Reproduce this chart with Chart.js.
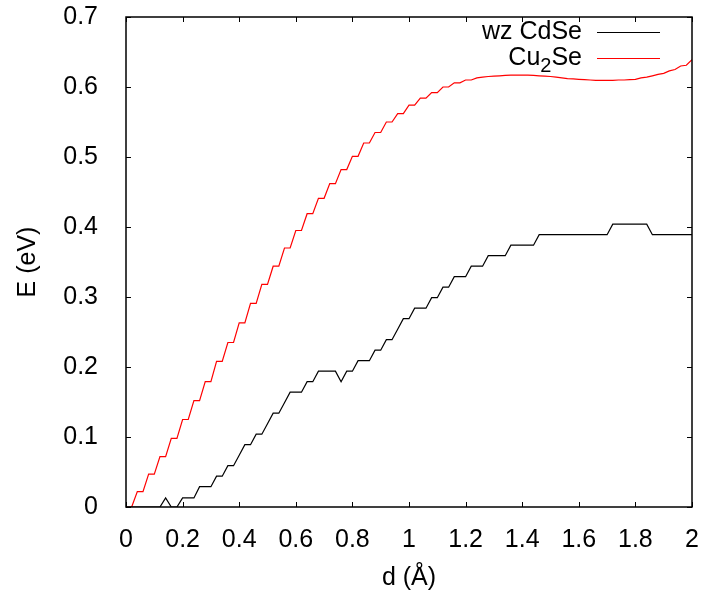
<!DOCTYPE html>
<html lang="en">
<head>
    <meta charset="UTF-8">
    <title>E vs d</title>
    <script src="https://cdn.jsdelivr.net/npm/chart.js"></script>
    <style>
        body { margin: 0; background: #fff; }
        .chart-box { width: 706px; height: 593px; }
    </style>
</head>
<body>
    <div class="chart-box">
        <canvas id="chartContainer"></canvas>
    </div>

    <script>
        // d (Å) grid
        const dValues = [
            0.00, 0.02, 0.04, 0.06, 0.08, 0.10, 0.12, 0.14, 0.16, 0.18,
            0.20, 0.22, 0.24, 0.26, 0.28, 0.30, 0.32, 0.34, 0.36, 0.38,
            0.40, 0.42, 0.44, 0.46, 0.48, 0.50, 0.52, 0.54, 0.56, 0.58,
            0.60, 0.62, 0.64, 0.66, 0.68, 0.70, 0.72, 0.74, 0.76, 0.78,
            0.80, 0.82, 0.84, 0.86, 0.88, 0.90, 0.92, 0.94, 0.96, 0.98,
            1.00, 1.02, 1.04, 1.06, 1.08, 1.10, 1.12, 1.14, 1.16, 1.18,
            1.20, 1.22, 1.24, 1.26, 1.28, 1.30, 1.32, 1.34, 1.36, 1.38,
            1.40, 1.42, 1.44, 1.46, 1.48, 1.50, 1.52, 1.54, 1.56, 1.58,
            1.60, 1.62, 1.64, 1.66, 1.68, 1.70, 1.72, 1.74, 1.76, 1.78,
            1.80, 1.82, 1.84, 1.86, 1.88, 1.90, 1.92, 1.94, 1.96, 1.98,
            2.00
        ];

        // E (eV), wz CdSe
        const cdseE = [
            0, 0, 0, 0, 0, 0, 0, 0.013, 0, 0,
            0.013, 0.013, 0.013, 0.029, 0.029, 0.029, 0.044, 0.044, 0.059, 0.059,
            0.074, 0.089, 0.089, 0.104, 0.104, 0.119, 0.134, 0.134, 0.149, 0.164,
            0.164, 0.164, 0.179, 0.179, 0.194, 0.194, 0.194, 0.194, 0.179, 0.194,
            0.194, 0.209, 0.209, 0.209, 0.224, 0.224, 0.239, 0.239, 0.254, 0.269,
            0.269, 0.284, 0.284, 0.284, 0.299, 0.299, 0.314, 0.314, 0.329, 0.329,
            0.329, 0.344, 0.344, 0.344, 0.359, 0.359, 0.359, 0.359, 0.374, 0.374,
            0.374, 0.374, 0.374, 0.389, 0.389, 0.389, 0.389, 0.389, 0.389, 0.389,
            0.389, 0.389, 0.389, 0.389, 0.389, 0.389, 0.404, 0.404, 0.404, 0.404,
            0.404, 0.404, 0.404, 0.389, 0.389, 0.389, 0.389, 0.389, 0.389, 0.389,
            0.389
        ];

        // E (eV), Cu2Se
        const cu2seE = [
            0, 0, 0.022, 0.022, 0.047, 0.047, 0.072, 0.072, 0.098, 0.098,
            0.125, 0.125, 0.152, 0.152, 0.179, 0.179, 0.208, 0.208, 0.235, 0.235,
            0.263, 0.263, 0.291, 0.291, 0.318, 0.318, 0.344, 0.344, 0.370, 0.370,
            0.395, 0.395, 0.419, 0.419, 0.441, 0.441, 0.462, 0.462, 0.482, 0.482,
            0.501, 0.501, 0.520, 0.520, 0.535, 0.535, 0.550, 0.550, 0.562, 0.562,
            0.574, 0.574, 0.584, 0.584, 0.592, 0.592, 0.600, 0.600, 0.606, 0.606,
            0.610, 0.610, 0.613, 0.614, 0.615, 0.6155, 0.616, 0.6165, 0.617, 0.617,
            0.617, 0.617, 0.6165, 0.616, 0.6155, 0.615, 0.614, 0.613, 0.612, 0.6115,
            0.611, 0.6105, 0.610, 0.6095, 0.6095, 0.6095, 0.6095, 0.610, 0.610, 0.6105,
            0.611, 0.613, 0.614, 0.616, 0.618, 0.6195, 0.623, 0.625, 0.630, 0.631,
            0.639
        ];

        const seriesLabels = ['wz CdSe', 'Cu₂Se'];
        const seriesColors = ['#000000', '#ff0000'];

        const FONT = '"Liberation Sans", Arial, sans-serif';
        const FONT_SIZE = 25;

        // split a label into normal / subscript runs (unicode subscript digits)
        function runsOf(label) {
            const runs = [];
            for (const ch of label) {
                const code = ch.charCodeAt(0);
                const sub = code >= 0x2080 && code <= 0x2089;
                const txt = sub ? String(code - 0x2080) : ch;
                const last = runs[runs.length - 1];
                if (last && last.sub === sub) last.text += txt;
                else runs.push({ text: txt, sub: sub });
            }
            return runs;
        }

        function drawRichRight(ctx, label, xRight, yMid) {
            const runs = runsOf(label);
            let total = 0;
            runs.forEach(r => {
                ctx.font = (r.sub ? FONT_SIZE * 0.8 : FONT_SIZE) + 'px ' + FONT;
                r.w = ctx.measureText(r.text).width;
                total += r.w;
            });
            let x = xRight - total;
            runs.forEach(r => {
                ctx.font = (r.sub ? FONT_SIZE * 0.8 : FONT_SIZE) + 'px ' + FONT;
                ctx.fillText(r.text, x, r.sub ? yMid + 8 : yMid);
                x += r.w;
            });
        }

        const framePlugin = {
            id: 'gnuFrame',
            afterDatasetsDraw(chart) {
                const ctx = chart.ctx;
                const a = chart.chartArea;
                const xs = chart.scales.x;
                const ys = chart.scales.y;
                ctx.save();
                ctx.strokeStyle = '#000';
                ctx.lineWidth = 1;
                // inward tick marks on all four sides
                const tl = 5;
                ctx.beginPath();
                xs.ticks.forEach(t => {
                    const px = Math.round(xs.getPixelForValue(t.value)) + 0.5;
                    ctx.moveTo(px, a.bottom); ctx.lineTo(px, a.bottom - tl);
                    ctx.moveTo(px, a.top); ctx.lineTo(px, a.top + tl);
                });
                ys.ticks.forEach(t => {
                    const py = Math.round(ys.getPixelForValue(t.value)) + 0.5;
                    ctx.moveTo(a.left, py); ctx.lineTo(a.left + tl, py);
                    ctx.moveTo(a.right, py); ctx.lineTo(a.right - tl, py);
                });
                ctx.stroke();
                ctx.lineWidth = 1.5;
                ctx.strokeRect(a.left, a.top, a.right - a.left, a.bottom - a.top);

                // legend, gnuplot style: text right aligned, sample line to the right
                ctx.fillStyle = '#000';
                ctx.textBaseline = 'middle';
                chart.data.datasets.forEach((ds, i) => {
                    const yMid = 32 + i * 26;
                    drawRichRight(ctx, ds.label, 582, yMid);
                    ctx.strokeStyle = ds.borderColor;
                    ctx.lineWidth = 1.2;
                    ctx.beginPath();
                    ctx.moveTo(597, yMid + 0.5);
                    ctx.lineTo(660, yMid + 0.5);
                    ctx.stroke();
                });
                ctx.restore();
            }
        };

        const fmt = v => String(Number(v.toFixed(2)));

        const ctx = document.getElementById('chartContainer').getContext('2d');
        const myChart = new Chart(ctx, {
            type: 'line',
            data: {
                datasets: [cdseE, cu2seE].map((vals, i) => ({
                    label: seriesLabels[i],
                    data: vals.map((v, k) => ({ x: dValues[k], y: v })),
                    borderColor: seriesColors[i],
                    borderWidth: 1.2,
                    pointRadius: 0,
                    tension: 0,
                    fill: false
                }))
            },
            options: {
                responsive: true,
                maintainAspectRatio: false,
                animation: false,
                layout: { padding: { top: 17, right: 14, left: 0, bottom: 0 } },
                plugins: {
                    legend: { display: false },
                    tooltip: { enabled: false }
                },
                scales: {
                    x: {
                        type: 'linear',
                        min: 0,
                        max: 2,
                        grid: { display: false },
                        border: { display: false },
                        ticks: {
                            stepSize: 0.2,
                            color: '#000',
                            padding: 10,
                            maxRotation: 0,
                            callback: fmt,
                            font: { family: FONT, size: FONT_SIZE }
                        },
                        title: {
                            display: true,
                            text: 'd (Å)',
                            color: '#000',
                            padding: 0,
                            font: { family: FONT, size: FONT_SIZE }
                        },
                        afterFit: s => {
                            s.height = 86;
                            s.paddingLeft = 0;
                            s.paddingRight = 0;
                        }
                    },
                    y: {
                        min: 0,
                        max: 0.7,
                        grid: { display: false },
                        border: { display: false },
                        ticks: {
                            stepSize: 0.1,
                            color: '#000',
                            padding: 20,
                            callback: fmt,
                            font: { family: FONT, size: FONT_SIZE }
                        },
                        title: {
                            display: true,
                            text: 'E (eV)',
                            color: '#000',
                            padding: { top: 13, bottom: 0 },
                            font: { family: FONT, size: FONT_SIZE }
                        },
                        afterFit: s => {
                            s.width = 126;
                            s.paddingTop = 0;
                            s.paddingBottom = 0;
                        }
                    }
                }
            },
            plugins: [framePlugin]
        });
    </script>
</body>
</html>
